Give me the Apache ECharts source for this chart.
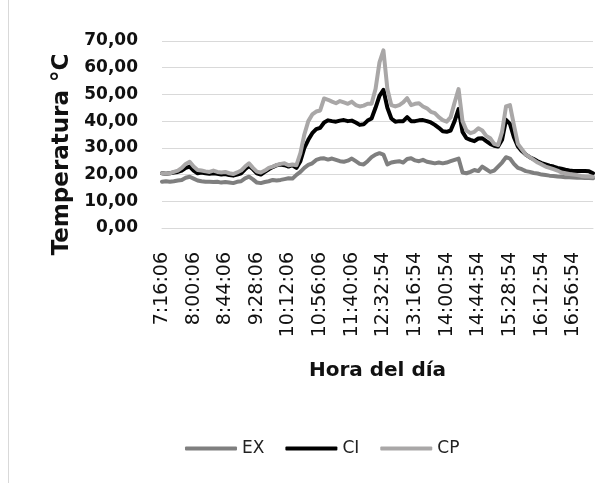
<!DOCTYPE html>
<html>
<head>
<meta charset="utf-8">
<script src="https://cdn.jsdelivr.net/npm/echarts@6/dist/echarts.min.js"></script>
<style>
  html, body { margin: 0; padding: 0; background: #fff; }
  #chart { width: 610px; height: 483px; }
</style>
</head>
<body>
<div id="chart"></div>
<script>
// sample times (category axis), a label every 8th point
const horas = [
  '7:16:06', '7:21:36', '7:27:06', '7:32:36', '7:38:06', '7:43:36', '7:49:06', '7:54:36',
  '8:00:06', '8:05:36', '8:11:06', '8:16:36', '8:22:06', '8:27:36', '8:33:06', '8:38:36',
  '8:44:06', '8:49:36', '8:55:06', '9:00:36', '9:06:06', '9:11:36', '9:17:06', '9:22:36',
  '9:28:06', '9:33:36', '9:39:06', '9:44:36', '9:50:06', '9:55:36', '10:01:06', '10:06:36',
  '10:12:06', '10:17:36', '10:23:06', '10:28:36', '10:34:06', '10:39:36', '10:45:06', '10:50:36',
  '10:56:06', '11:01:36', '11:07:06', '11:12:36', '11:18:06', '11:23:36', '11:29:06', '11:34:36',
  '11:40:06', '11:46:42', '11:53:18', '11:59:54', '12:06:30', '12:13:06', '12:19:42', '12:26:18',
  '12:32:54', '12:38:24', '12:43:54', '12:49:24', '12:54:54', '13:00:24', '13:05:54', '13:11:24',
  '13:16:54', '13:22:24', '13:27:54', '13:33:24', '13:38:54', '13:44:24', '13:49:54', '13:55:24',
  '14:00:54', '14:06:24', '14:11:54', '14:17:24', '14:22:54', '14:28:24', '14:33:54', '14:39:24',
  '14:44:54', '14:50:24', '14:55:54', '15:01:24', '15:06:54', '15:12:24', '15:17:54', '15:23:24',
  '15:28:54', '15:34:24', '15:39:54', '15:45:24', '15:50:54', '15:56:24', '16:01:54', '16:07:24',
  '16:12:54', '16:18:24', '16:23:54', '16:29:24', '16:34:54', '16:40:24', '16:45:54', '16:51:24',
  '16:56:54', '17:02:24', '17:07:54', '17:13:24', '17:18:54', '17:24:24'
]

const ex = [
  17.3, 17.5, 17.3, 17.5, 17.8, 18.0, 18.8, 19.2, 18.5, 17.8,
  17.5, 17.3, 17.3, 17.2, 17.3, 17.0, 17.2, 17.0, 16.8, 17.3,
  17.5, 18.6, 19.2, 18.2, 17.0, 16.8, 17.2, 17.5, 18.0, 17.8,
  18.0, 18.3, 18.6, 18.5, 19.9, 21.0, 22.5, 23.6, 24.2, 25.5,
  26.0, 26.1, 25.6, 26.0, 25.5, 25.0, 24.8, 25.2, 26.0, 25.0,
  24.0, 23.8, 25.0, 26.5, 27.5, 28.0, 27.5, 23.8, 24.5, 24.8,
  25.0, 24.5, 25.8, 26.1, 25.3, 25.0, 25.5, 24.8, 24.5, 24.2,
  24.5, 24.2, 24.5, 25.0, 25.5, 26.0, 20.8, 20.5, 21.0, 21.7,
  21.3, 23.0, 22.0, 21.0, 21.5, 23.0, 24.5, 26.5, 26.0, 24.0,
  22.5, 22.0, 21.3, 21.0, 20.6, 20.4, 20.0, 19.8, 19.6, 19.5,
  19.3, 19.2, 19.0, 19.0, 18.9, 18.8, 18.8, 18.7, 18.7, 18.6
]

const ci = [
  20.5, 20.3, 20.5, 20.8, 21.0, 21.5, 22.5, 23.0, 21.5, 20.5,
  20.8, 20.5, 20.3, 20.5, 20.3, 20.0, 20.2, 19.8, 19.6, 20.0,
  20.5, 22.0, 23.2, 22.0, 20.5, 20.0, 21.0, 22.0, 22.8, 23.5,
  23.8, 23.5, 23.0, 23.5, 22.5, 25.0, 30.0, 33.0, 35.5, 37.0,
  37.5, 39.5, 40.3, 40.0, 39.8, 40.2, 40.4, 40.0, 40.2, 39.5,
  38.6, 38.8, 40.2, 41.0, 45.0, 49.5, 51.7, 45.0, 41.0, 39.8,
  40.0, 40.0, 41.5, 40.0, 40.0, 40.3, 40.4, 40.0, 39.5, 38.6,
  37.5, 36.2, 36.0, 36.5, 40.0, 44.5, 36.0, 33.6, 33.0, 32.5,
  33.5, 33.6, 32.5, 31.5, 30.8, 30.5, 33.0, 40.5, 39.0, 34.0,
  30.5, 28.8, 27.5, 26.5, 25.8, 25.0, 24.3, 23.8, 23.3, 23.0,
  22.5, 22.2, 21.8, 21.5, 21.3, 21.3, 21.3, 21.3, 21.2, 20.5
]

const cp = [
  20.5, 20.3, 20.5, 21.0, 21.5, 22.5, 24.0, 24.8, 23.0, 21.7,
  21.5, 21.2, 21.0, 21.5, 21.0, 20.8, 21.0, 20.5, 20.2, 20.8,
  21.5, 23.0, 24.2, 22.5, 21.1, 20.8, 21.5, 22.5, 23.0, 23.6,
  24.0, 24.2, 23.5, 23.8, 23.5, 28.0, 35.0, 40.0, 42.5, 43.6,
  44.0, 48.5, 48.0, 47.3, 46.7, 47.5, 47.0, 46.5, 47.3, 46.0,
  45.5, 45.8, 46.5, 46.5, 52.0, 62.0, 66.5, 52.0, 46.0, 45.5,
  46.0, 47.0, 48.6, 46.0, 46.5, 46.7, 45.5, 44.8, 43.5, 43.0,
  41.5, 40.4, 39.8, 41.5, 47.0, 52.0, 40.0, 36.5, 35.5, 36.0,
  37.3, 36.5, 34.5, 33.6, 31.5, 31.0, 36.0, 45.5, 46.0, 38.5,
  31.5, 29.5, 27.5, 26.5, 25.5, 24.5, 23.8, 23.0, 22.5, 22.0,
  21.5, 20.8, 20.5, 20.2, 20.0, 19.8, 19.5, 19.3, 19.3, 19.2
]

const seriesNames = ['EX', 'CI', 'CP']
const seriesColors = ['#7f7f7f', '#000000', '#a9a7a7']

const chart = echarts.init(document.getElementById('chart'))

function lineSeries(name, data, i) {
  return {
    name,
    type: 'line',
    data,
    showSymbol: false,
    symbol: 'none',
    smooth: false,
    color: seriesColors[i],
    lineStyle: { color: seriesColors[i], width: 4, cap: 'round', join: 'round' },
  }
}

chart.setOption({
  animation: false,
  textStyle: { fontFamily: 'DejaVu Sans' },
  grid: { left: 162, right: 17, top: 41, bottom: 255 },
  legend: {
    data: seriesNames,
    icon: 'roundRect',
    left: 180,
    top: 435,
    itemWidth: 52,
    itemHeight: 4,
    itemGap: 21,
    textStyle: { fontSize: 17, color: '#222', fontFamily: 'DejaVu Sans' },
  },
  xAxis: {
    type: 'category',
    data: horas,
    boundaryGap: false,
    name: 'Hora del día',
    nameLocation: 'middle',
    nameGap: 133,
    nameTextStyle: { fontSize: 20, fontWeight: 'bold', color: '#111' },
    axisLine: { lineStyle: { color: '#d9d9d9' } },
    axisTick: { show: false },
    axisLabel: {
      interval: 7,
      rotate: 90,
      margin: 24,
      fontSize: 19,
      color: '#111',
    },
  },
  yAxis: {
    type: 'value',
    min: 0,
    max: 70,
    interval: 10,
    name: 'Temperatura °C',
    nameLocation: 'middle',
    nameRotate: 90,
    nameGap: 86,
    nameTextStyle: { fontSize: 23, fontWeight: 'bold', color: '#111', padding: [0, 40, 0, 0] },
    axisLine: { show: false },
    axisTick: { show: false },
    splitLine: { lineStyle: { color: '#d9d9d9' } },
    axisLabel: {
      margin: 24,
      fontSize: 17,
      fontWeight: 'bold',
      color: '#111',
      formatter: (v) => v.toFixed(2).replace('.', ','),
    },
  },
  graphic: [
    {
      type: 'line',
      shape: { x1: 8.5, y1: 0, x2: 8.5, y2: 483 },
      style: { stroke: '#d9d9d9', lineWidth: 1 },
    },
  ],
  series: [
    lineSeries('EX', ex, 0),
    lineSeries('CI', ci, 1),
    lineSeries('CP', cp, 2),
  ],
})
</script>
</body>
</html>
